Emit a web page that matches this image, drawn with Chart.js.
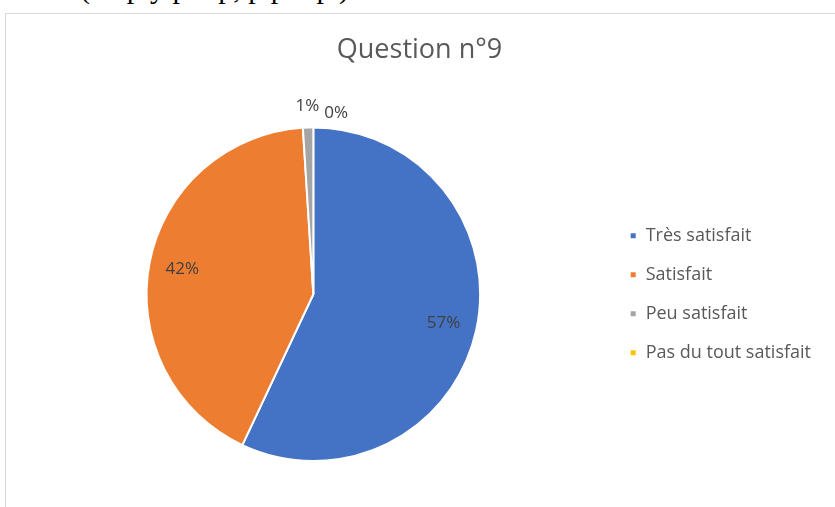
<!DOCTYPE html>
<html>
<head>
<meta charset="utf-8">
<script src="https://cdn.jsdelivr.net/npm/chart.js@4/dist/chart.umd.min.js"></script>
<style>
    body { margin: 0; background: #fff; width: 835px; height: 507px; overflow: hidden; position: relative; }
    #texte-haut { position: absolute; left: 80px; top: -29px; font-family: 'Liberation Serif', serif; font-size: 30px; color: #000; white-space: nowrap; }
    #cadre { position: absolute; left: 5px; top: 13px; width: 860px; height: 510px; border: 1px solid #d9d9d9; }
    #zone { position: absolute; left: 6px; top: 14px; width: 848px; height: 493px; }
</style>
</head>
<body>
<div id="texte-haut">(emply par p, p par p )</div>
<div id="cadre"></div>
<div id="zone"><canvas id="grafico-pie"></canvas></div>
<script>
const titre = 'Question n°9';
const categories = ['Très satisfait', 'Satisfait', 'Peu satisfait', 'Pas du tout satisfait'];
const valeurs = [57, 42, 1, 0];
const couleurs = ['#4472C4', '#ED7D31', '#A5A5A5', '#FFC000'];

// Dessine les pourcentages sur ou au-dessus des parts
const etiquettes = {
    id: 'etiquettes',
    afterDatasetsDraw(chart) {
        const ctx = chart.ctx;
        const meta = chart.getDatasetMeta(0);
        const total = valeurs.reduce((a, b) => a + b, 0);
        let precedente = null;
        ctx.save();
        ctx.font = '17px "Open Sans"';
        ctx.fillStyle = '#404040';
        ctx.textAlign = 'center';
        ctx.textBaseline = 'middle';
        meta.data.forEach((arc, i) => {
            const p = arc.getProps(['x', 'y', 'startAngle', 'endAngle', 'outerRadius'], true);
            const frac = valeurs[i] / total;
            const mid = (p.startAngle + p.endAngle) / 2;
            const texte = Math.round(frac * 100) + '%';
            const w = ctx.measureText(texte).width;
            let x, y;
            if (frac >= 0.05) {
                x = p.x + Math.cos(mid) * p.outerRadius * 0.8;
                y = p.y + Math.sin(mid) * p.outerRadius * 0.8;
            } else {
                x = p.x + Math.cos(mid) * (p.outerRadius + 21);
                y = p.y + Math.sin(mid) * (p.outerRadius + 21);
                if (precedente && Math.abs(x - precedente.x) < (w + precedente.w) / 2 + 4) {
                    x = precedente.x + (w + precedente.w) / 2 + 5;
                    y = precedente.y + 7;
                }
                precedente = { x: x, y: y, w: w };
            }
            ctx.fillText(texte, x, y);
        });
        ctx.restore();
    }
};

const ctx = document.getElementById('grafico-pie').getContext('2d');
new Chart(ctx, {
    type: 'pie',
    data: {
        labels: categories,
        datasets: [{
            data: valeurs,
            backgroundColor: couleurs,
            borderColor: '#ffffff',
            borderWidth: 2
        }]
    },
    options: {
        responsive: true,
        maintainAspectRatio: false,
        animation: false,
        layout: {
            padding: { left: 12, right: 33, top: 0, bottom: 45 }
        },
        plugins: {
            title: {
                display: true,
                text: titre,
                color: '#595959',
                font: { family: 'Open Sans', size: 27, weight: 'normal' },
                padding: { top: 20, bottom: 60 }
            },
            legend: {
                position: 'right',
                fullSize: false,
                labels: {
                    color: '#595959',
                    font: { family: 'Open Sans', size: 18 },
                    boxWidth: 7,
                    boxHeight: 7,
                    padding: 21
                }
            },
            tooltip: { enabled: false }
        }
    },
    plugins: [etiquettes]
});
</script>
</body>
</html>
